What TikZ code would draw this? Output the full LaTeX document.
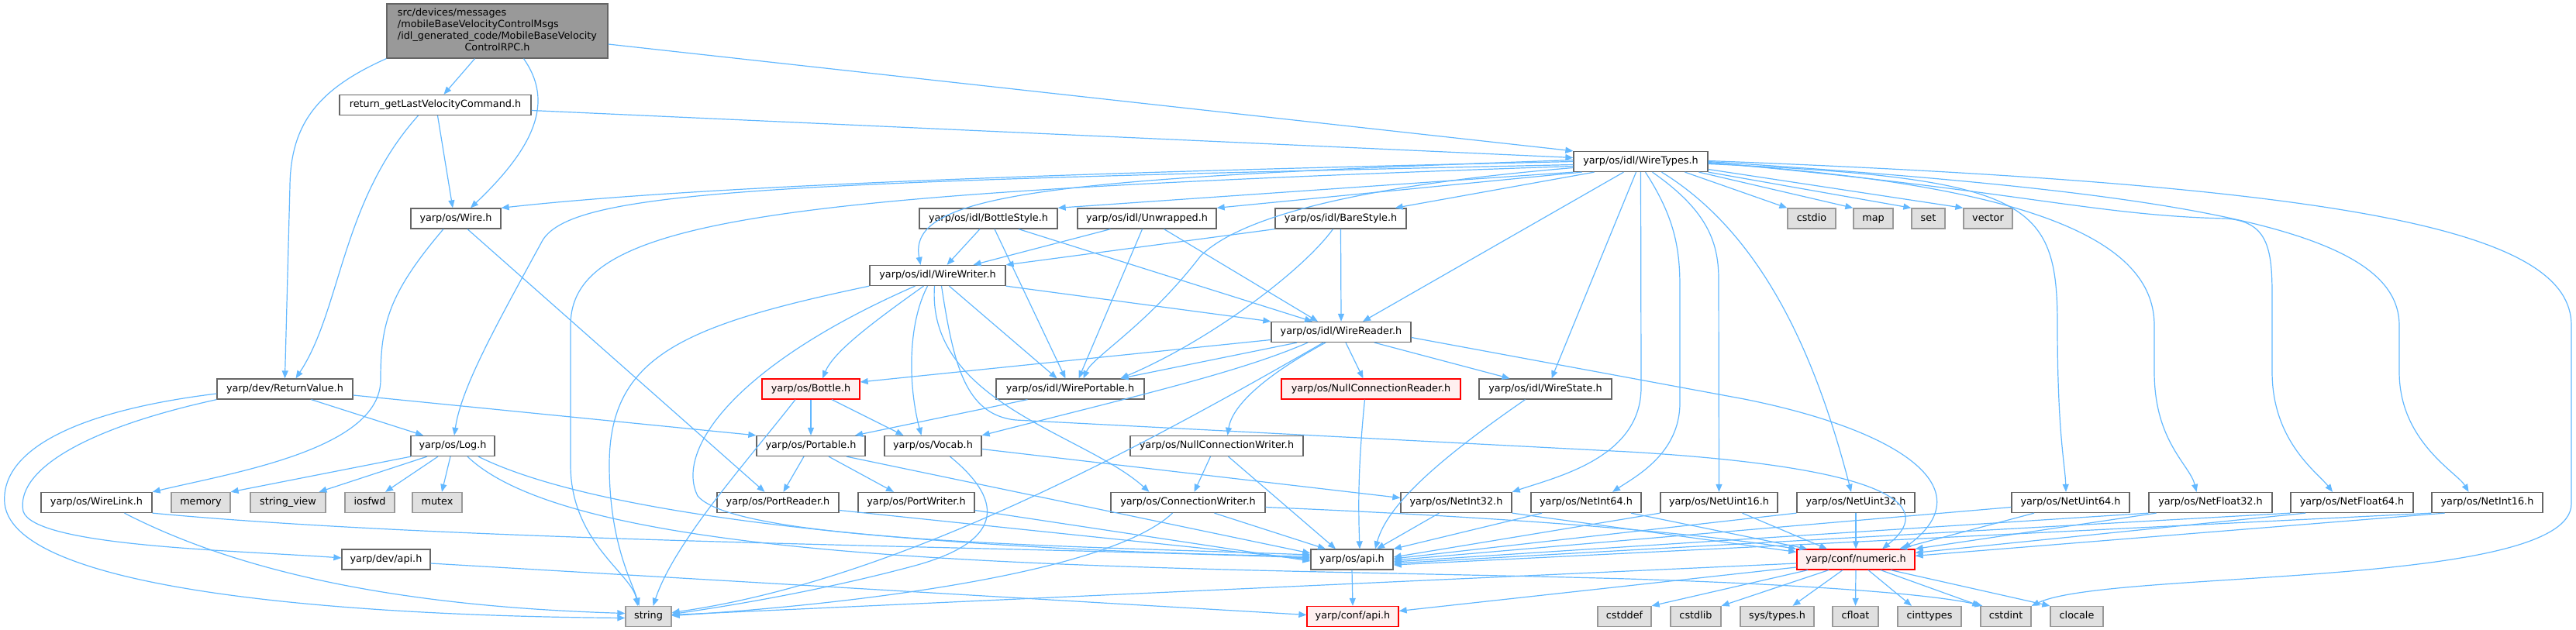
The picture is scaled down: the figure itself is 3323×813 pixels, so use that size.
\documentclass[tikz,border=0pt]{standalone}
\usepackage{fontspec}
\setmainfont{DejaVu Sans}
\usetikzlibrary{arrows.meta}

\definecolor{edgeblue}{HTML}{63B8FF}
\definecolor{boxgray}{HTML}{666666}
\definecolor{sysgray}{HTML}{999999}
\definecolor{sysfill}{HTML}{E0E0E0}
\definecolor{badfill}{HTML}{FFF0F0}
\definecolor{mainfill}{HTML}{999999}

\tikzset{
	box/.style={draw=boxgray, fill=white, line width=1.3pt, inner sep=0pt, font=\fontsize{12.8}{15}\selectfont},
	hdr/.style={box, minimum height=26pt, text height=9.6pt, text depth=3pt},
	sys/.style={hdr, draw=sysgray, fill=sysfill},
	bad/.style={hdr, draw=red, fill=badfill},
	inc/.style={draw=edgeblue, line width=1.2pt, -{Triangle[length=10pt,width=8pt]}},
}

\begin{document}
\begin{tikzpicture}[x=1pt,y=-1pt]
	\useasboundingbox (0,0) rectangle (3323,813);
	
	% File itself
	\node[box, fill=mainfill, minimum width=285pt, minimum height=70pt] (main) at (641.5,40)
		{\begin{tabular}{@{}l@{}}src/devices/messages\\/mobileBaseVelocityControlMsgs\\/idl\_generated\_code/MobileBaseVelocity\\\multicolumn{1}{@{}c@{}}{ControlRPC.h}\end{tabular}};
	
	% Headers, row by row
	\node[hdr, minimum width=247pt] (retcmd) at (561.5,135.5) {return\_getLastVelocityCommand.h};
	\node[hdr, minimum width=173pt] (wiretypes) at (2116.5,208.5) {yarp/os/idl/WireTypes.h};
	
	\node[hdr, minimum width=116pt] (wire) at (588,282) {yarp/os/Wire.h};
	\node[hdr, minimum width=178pt] (bottlestyle) at (1275,282) {yarp/os/idl/BottleStyle.h};
	\node[hdr, minimum width=179pt] (unwrapped) at (1479.5,282) {yarp/os/idl/Unwrapped.h};
	\node[hdr, minimum width=169pt] (barestyle) at (1729.5,282) {yarp/os/idl/BareStyle.h};
	\node[sys, minimum width=62pt] (cstdio) at (2337,282) {cstdio};
	\node[sys, minimum width=51pt] (map) at (2416.5,282) {map};
	\node[sys, minimum width=43pt] (set) at (2487.5,282) {set};
	\node[sys, minimum width=63pt] (vector) at (2564.5,282) {vector};
	
	\node[hdr, minimum width=175pt] (wirewriter) at (1209.5,355.5) {yarp/os/idl/WireWriter.h};
	\node[hdr, minimum width=180pt] (wirereader) at (1730,428.5) {yarp/os/idl/WireReader.h};
	
	\node[hdr, minimum width=175pt] (retval) at (367.5,502) {yarp/dev/ReturnValue.h};
	\node[bad, minimum width=126pt] (bottle) at (1046,502) {yarp/os/Bottle.h};
	\node[hdr, minimum width=191pt] (wireportable) at (1380.5,502) {yarp/os/idl/WirePortable.h};
	\node[bad, minimum width=231pt] (nullreader) at (1768.5,502) {yarp/os/NullConnectionReader.h};
	\node[hdr, minimum width=171pt] (wirestate) at (1993.5,502) {yarp/os/idl/WireState.h};
	
	\node[hdr, minimum width=108pt] (log) at (584,575.5) {yarp/os/Log.h};
	\node[hdr, minimum width=140pt] (portable) at (1046,575.5) {yarp/os/Portable.h};
	\node[hdr, minimum width=125pt] (vocab) at (1203.5,575.5) {yarp/os/Vocab.h};
	\node[hdr, minimum width=223pt] (nullwriter) at (1569.5,575.5) {yarp/os/NullConnectionWriter.h};
	
	\node[hdr, minimum width=143pt] (wirelink) at (124.5,648.5) {yarp/os/WireLink.h};
	\node[sys, minimum width=76pt] (memory) at (259,648.5) {memory};
	\node[sys, minimum width=97pt] (strview) at (371.5,648.5) {string\_view};
	\node[sys, minimum width=64pt] (iosfwd) at (477,648.5) {iosfwd};
	\node[sys, minimum width=64pt] (mutex) at (564,648.5) {mutex};
	\node[hdr, minimum width=157pt] (portreader) at (1003.5,648.5) {yarp/os/PortReader.h};
	\node[hdr, minimum width=150pt] (portwriter) at (1182,648.5) {yarp/os/PortWriter.h};
	\node[hdr, minimum width=199pt] (connwriter) at (1532.5,648.5) {yarp/os/ConnectionWriter.h};
	\node[hdr, minimum width=143pt] (netint32) at (1878.5,648.5) {yarp/os/NetInt32.h};
	\node[hdr, minimum width=142pt] (netint64) at (2046,648.5) {yarp/os/NetInt64.h};
	\node[hdr, minimum width=151pt] (netuint16) at (2217.5,648.5) {yarp/os/NetUint16.h};
	\node[hdr, minimum width=152pt] (netuint32) at (2394,648.5) {yarp/os/NetUint32.h};
	\node[hdr, minimum width=152pt] (netuint64) at (2671,648.5) {yarp/os/NetUint64.h};
	\node[hdr, minimum width=159pt] (netfloat32) at (2851.5,648.5) {yarp/os/NetFloat32.h};
	\node[hdr, minimum width=158pt] (netfloat64) at (3034,648.5) {yarp/os/NetFloat64.h};
	\node[hdr, minimum width=143pt] (netint16) at (3208.5,648.5) {yarp/os/NetInt16.h};
	
	\node[hdr, minimum width=114pt] (devapi) at (498,722) {yarp/dev/api.h};
	\node[hdr, minimum width=106pt] (osapi) at (1744,722) {yarp/os/api.h};
	\node[bad, minimum width=152pt] (numeric) at (2394,722) {yarp/conf/numeric.h};
	
	\node[sys, minimum width=59pt] (string) at (836.5,795.5) {string};
	\node[bad, minimum width=118pt] (confapi) at (1745,795.5) {yarp/conf/api.h};
	\node[sys, minimum width=69pt] (cstddef) at (2095.5,795.5) {cstddef};
	\node[sys, minimum width=65pt] (cstdlib) at (2187.5,795.5) {cstdlib};
	\node[sys, minimum width=95pt] (systypes) at (2292.5,795.5) {sys/types.h};
	\node[sys, minimum width=59pt] (cfloat) at (2393.5,795.5) {cfloat};
	\node[sys, minimum width=82pt] (cinttypes) at (2489,795.5) {cinttypes};
	\node[sys, minimum width=65pt] (cstdint) at (2587.5,795.5) {cstdint};
	\node[sys, minimum width=68pt] (clocale) at (2679,795.5) {clocale};
	
	% Includes of the file and of return_getLastVelocityCommand.h
	\draw[inc] (main.south west) .. controls (410,115) and (375,160) .. (374,240) -- (retval.north);
	\draw[inc] ([xshift=-29pt]main.south) -- ([xshift=11pt]retcmd.north);
	\draw[inc] ([xshift=34pt]main.south) .. controls (710,125) and (700,180) .. ([xshift=19pt]wire.north);
	\draw[inc] ([yshift=-17pt]main.east) -- (wiretypes.north west);
	\draw[inc] ([yshift=-7pt]retcmd.east) -- ([yshift=5pt]wiretypes.west);
	\draw[inc] ([xshift=3pt]retcmd.south) -- ([xshift=-4pt]wire.north);
	\draw[inc] ([xshift=-22pt]retcmd.south) .. controls (440,260) and (440,400) .. ([xshift=14pt]retval.north);
	
	% Wire.h
	\draw[inc] ([xshift=-16pt]wire.south) .. controls (500,380) and (491,420) .. (491,490) .. controls (491,580) and (300,610) .. (wirelink.north east);
	\draw[inc] ([xshift=15pt]wire.south) -- ([xshift=-17pt]portreader.north);
	
	% WireTypes.h, to the left
	\draw[inc] (wiretypes.west) .. controls (1400,222) and (900,240) .. (wire.north east);
	\draw[inc] ([yshift=-4pt]wiretypes.west) .. controls (1000,235) and (740,245) .. (700,310) .. controls (640,420) and (595,500) .. ([xshift=2pt]log.north);
	\draw[inc] ([yshift=-6pt]wiretypes.west) .. controls (1000,250) and (736,280) .. (736,420) -- (736,600) .. controls (736,700) and (815,740) .. ([xshift=-14pt]string.north);
	\draw[inc] (wiretypes.south west) -- (bottlestyle.north east);
	\draw[inc] ([xshift=-76pt]wiretypes.south) -- (unwrapped.north east);
	\draw[inc] ([xshift=-60pt]wiretypes.south) -- ([xshift=-15pt]barestyle.north east);
	\draw[inc] ([yshift=2pt]wiretypes.west) .. controls (1350,230) and (1170,250) .. ([xshift=-22pt]wirewriter.north);
	\draw[inc] ([yshift=-8pt]wiretypes.west) .. controls (1750,240) and (1600,280) .. (1549,330) .. controls (1480,420) and (1410,460) .. ([xshift=17pt]wireportable.north);
	\draw[inc] ([xshift=-22pt]wiretypes.south) -- ([xshift=28pt]wirereader.north);
	\draw[inc] ([xshift=-6pt]wiretypes.south) -- ([xshift=8pt]wirestate.north);
	
	% WireTypes.h, downwards and to the right
	\draw[inc] (wiretypes.south) -- (2117,500) .. controls (2117,590) and (2010,615) .. (netint32.north east);
	\draw[inc] ([xshift=6pt]wiretypes.south) .. controls (2160,280) and (2167,320) .. (2167,370) -- (2167,520) .. controls (2167,585) and (2110,615) .. ([xshift=34pt]netint64.north);
	\draw[inc] ([xshift=15pt]wiretypes.south) .. controls (2200,270) and (2217,310) .. (2217,360) -- (netuint16.north);
	\draw[inc] ([xshift=27pt]wiretypes.south) .. controls (2270,300) and (2340,450) .. ([xshift=-6pt]netuint32.north);
	\draw[inc] ([yshift=-3pt]wiretypes.east) .. controls (2620,230) and (2654,260) .. (2654,420) .. controls (2654,560) and (2664,600) .. ([xshift=-6pt]netuint64.north);
	\draw[inc] ([yshift=-2pt]wiretypes.east) .. controls (2650,240) and (2779,320) .. (2779,420) -- (2779,480) .. controls (2779,570) and (2825,600) .. ([xshift=-18pt]netfloat32.north);
	\draw[inc] ([yshift=-1pt]wiretypes.east) .. controls (2600,245) and (2700,278) .. (2870,282) .. controls (2925,285) and (2931,320) .. (2931,380) -- (2931,480) .. controls (2931,570) and (2990,610) .. ([xshift=-25pt]netfloat64.north);
	\draw[inc] (wiretypes.east) .. controls (2850,250) and (3095,300) .. (3095,420) -- (3095,480) .. controls (3095,570) and (3170,610) .. ([xshift=-24pt]netint16.north);
	\draw[inc] ([yshift=1pt]wiretypes.east) .. controls (3050,240) and (3317,300) .. (3317,420) -- (3317,650) .. controls (3317,760) and (2720,735) .. (cstdint.north east);
	\draw[inc] ([xshift=57pt]wiretypes.south) -- (cstdio.north west);
	\draw[inc] ([xshift=75pt]wiretypes.south) -- (map.north west);
	\draw[inc] (wiretypes.south east) -- (set.north west);
	\draw[inc] ([yshift=-10pt]wiretypes.east) -- (vector.north west);
	
	% Style headers
	\draw[inc] ([xshift=-11pt]bottlestyle.south) -- ([xshift=12pt]wirewriter.north);
	\draw[inc] ([xshift=8pt]bottlestyle.south) -- ([xshift=-6pt]wireportable.north);
	\draw[inc] ([xshift=39pt]bottlestyle.south) -- ([xshift=-37pt]wirereader.north);
	\draw[inc] ([xshift=-47pt]unwrapped.south) -- ([xshift=46pt]wirewriter.north);
	\draw[inc] ([xshift=-6pt]unwrapped.south) -- ([xshift=11pt]wireportable.north);
	\draw[inc] ([xshift=22pt]unwrapped.south) -- ([xshift=-30pt]wirereader.north);
	\draw[inc] (barestyle.south west) -- (wirewriter.north east);
	\draw[inc] ([xshift=-10pt]barestyle.south) .. controls (1680,350) and (1560,440) .. ([xshift=65pt]wireportable.north);
	\draw[inc] (barestyle.south) -- (wirereader.north);
	
	% WireWriter.h
	\draw[inc] (wirewriter.south east) -- (wirereader.north west);
	\draw[inc] ([xshift=-18pt]wirewriter.south) .. controls (1120,420) and (1075,455) .. ([xshift=15pt]bottle.north);
	\draw[inc] ([xshift=-13pt]wirewriter.south) .. controls (1170,420) and (1172,500) .. ([xshift=-15pt]vocab.north);
	\draw[inc] ([xshift=15pt]wirewriter.south) -- ([xshift=-17pt]wireportable.north);
	\draw[inc] ([xshift=-4pt]wirewriter.south) .. controls (1195,520) and (1400,560) .. ([xshift=-50pt]connwriter.north);
	\draw[inc] ([xshift=5pt]wirewriter.south) .. controls (1230,470) and (1245,535) .. (1310,542) -- (2100,583) .. controls (2470,605) and (2490,660) .. ([xshift=34pt]numeric.north);
	\draw[inc] (wirewriter.south west) .. controls (880,420) and (786,460) .. (786,600) .. controls (786,700) and (815,750) .. ([xshift=-12pt]string.north);
	\draw[inc] ([xshift=-29pt]wirewriter.south) .. controls (950,470) and (870,580) .. (900,640) .. controls (950,700) and (1400,705) .. ([yshift=6pt]osapi.west);
	
	% WireReader.h
	\draw[inc] ([yshift=-10pt]wirereader.west) -- ([yshift=9pt]bottle.east);
	\draw[inc] ([xshift=-57pt]wirereader.south) -- ([xshift=65pt]wireportable.north);
	\draw[inc] ([xshift=-43pt]wirereader.south) .. controls (1600,480) and (1470,510) .. (vocab.north east);
	\draw[inc] ([xshift=-23pt]wirereader.south) .. controls (1450,590) and (1150,750) .. ([yshift=5pt]string.east);
	\draw[inc] ([xshift=-20pt]wirereader.south) .. controls (1640,480) and (1590,520) .. ([xshift=14pt]nullwriter.north);
	\draw[inc] ([xshift=6pt]wirereader.south) -- ([xshift=-10pt]nullreader.north);
	\draw[inc] ([xshift=43pt]wirereader.south) -- ([xshift=-46pt]wirestate.north);
	\draw[inc] ([yshift=-7pt]wirereader.east) -- (2250,515) .. controls (2450,555) and (2560,630) .. ([xshift=61pt]numeric.north);
	
	% Bottle.h, WirePortable.h, Portable.h, Vocab.h
	\draw[inc] ([xshift=-20pt]bottle.south) .. controls (960,600) and (870,700) .. ([xshift=6pt]string.north);
	\draw[inc] (bottle.south) -- (portable.north);
	\draw[inc] ([xshift=27pt]bottle.south) -- ([xshift=-38pt]vocab.north);
	\draw[inc] ([xshift=-55pt]wireportable.south) -- ([xshift=57pt]portable.north);
	\draw[inc] ([xshift=-9pt]portable.south) -- ([xshift=7pt]portreader.north);
	\draw[inc] ([xshift=23pt]portable.south) -- ([xshift=-29pt]portwriter.north);
	\draw[inc] ([xshift=46pt]portable.south) -- ([yshift=8pt]osapi.west);
	\draw[inc] ([xshift=22pt]vocab.south) .. controls (1300,650) and (1290,700) .. (1180,730) .. controls (1050,765) and (920,785) .. ([yshift=3pt]string.east);
	\draw[inc] ([yshift=-4pt]vocab.east) -- ([yshift=6pt]netint32.west);
	
	% Connection headers, WireState.h
	\draw[inc] ([xshift=-8pt]nullwriter.south) -- ([xshift=8pt]connwriter.north);
	\draw[inc] ([xshift=15pt]nullwriter.south) -- ([xshift=-21pt]osapi.north);
	\draw[inc] ([xshift=-8pt]nullreader.south) .. controls (1752,600) and (1752,650) .. ([xshift=10pt]osapi.north);
	\draw[inc] ([xshift=-26pt]wirestate.south) .. controls (1860,590) and (1790,650) .. ([xshift=30pt]osapi.north);
	\draw[inc] ([xshift=34pt]connwriter.south) -- ([xshift=-34pt]osapi.north);
	\draw[inc] ([xshift=-20pt]connwriter.south) .. controls (1430,740) and (1100,780) .. ([yshift=1pt]string.east);
	\draw[inc] ([yshift=-6pt]connwriter.east) .. controls (2000,670) and (2200,690) .. (numeric.north west);
	
	% Net types
	\draw[inc] ([xshift=-22pt]netint32.south) -- ([xshift=32pt]osapi.north);
	\draw[inc] (netint32.south east) -- ([yshift=-4pt]numeric.north west);
	\draw[inc] ([xshift=-57pt]netint64.south) -- (osapi.north east);
	\draw[inc] ([xshift=58pt]netint64.south) -- ([xshift=14pt]numeric.north west);
	\draw[inc] (netuint16.south west) -- ([yshift=3pt]osapi.east);
	\draw[inc] ([xshift=30pt]netuint16.south) -- ([xshift=-37pt]numeric.north);
	\draw[inc] (netuint32.south west) -- ([yshift=1pt]osapi.east);
	\draw[inc] (netuint32.south) -- (numeric.north);
	\draw[inc] ([yshift=-6pt]netuint64.west) -- ([yshift=-1pt]osapi.east);
	\draw[inc] ([xshift=-47pt]netuint64.south) -- ([xshift=56pt]numeric.north);
	\draw[inc] (netfloat32.south west) -- ([yshift=-3pt]osapi.east);
	\draw[inc] ([xshift=-70pt]netfloat32.south) -- (numeric.north east);
	\draw[inc] (netfloat64.south west) -- ([yshift=-5pt]osapi.east);
	\draw[inc] ([xshift=-60pt]netfloat64.south) -- ([yshift=-5pt]numeric.north east);
	\draw[inc] (netint16.south west) -- ([yshift=-7pt]osapi.east);
	\draw[inc] ([xshift=-55pt]netint16.south) -- ([yshift=-9pt]numeric.north east);
	
	% Log.h, ReturnValue.h, WireLink.h
	\draw[inc] ([xshift=-54pt]log.south) -- (memory.north east);
	\draw[inc] ([xshift=-33pt]log.south) -- ([xshift=40pt]strview.north);
	\draw[inc] ([xshift=-19pt]log.south) -- ([xshift=20pt]iosfwd.north);
	\draw[inc] ([xshift=-3pt]log.south) -- ([xshift=6pt]mutex.north);
	\draw[inc] ([xshift=33pt]log.south) .. controls (800,680) and (1300,712) .. ([yshift=4pt]osapi.west);
	\draw[inc] ([xshift=19pt]log.south) .. controls (760,740) and (1500,730) .. (2100,747) .. controls (2350,755) and (2500,768) .. ([xshift=3pt]cstdint.north west);
	\draw[inc] ([yshift=-6pt]retval.west) .. controls (100,530) and (0,580) .. (6,650) .. controls (20,770) and (500,795) .. ([yshift=-2pt]string.west);
	\draw[inc] (retval.south west) .. controls (100,555) and (20,610) .. (30,660) .. controls (45,705) and (300,710) .. ([yshift=2pt]devapi.west);
	\draw[inc] ([xshift=34pt]retval.south) -- ([xshift=-38pt]log.north);
	\draw[inc] ([yshift=-8pt]retval.east) -- (portable.north west);
	\draw[inc] ([xshift=36pt]wirelink.south) .. controls (350,760) and (600,785) .. ([yshift=4pt]string.west);
	\draw[inc] (wirelink.south east) .. controls (600,700) and (1300,705) .. ([yshift=2pt]osapi.west);
	\draw[inc] ([yshift=-10pt]portreader.east) -- (osapi.west);
	\draw[inc] ([yshift=-10pt]portwriter.east) -- ([yshift=-2pt]osapi.west);
	
	% api.h and numeric.h
	\draw[inc] ([yshift=-5pt]devapi.east) -- ([yshift=2pt]confapi.west);
	\draw[inc] (osapi.south) -- (confapi.north);
	\draw[inc] ([yshift=-10pt]numeric.west) -- ([yshift=7pt]confapi.east);
	\draw[inc] ([yshift=-5pt]numeric.west) -- ([yshift=2pt]string.east);
	\draw[inc] ([xshift=-62pt]numeric.south) -- (cstddef.north east);
	\draw[inc] ([xshift=-35pt]numeric.south) -- (cstdlib.north east);
	\draw[inc] ([xshift=-17pt]numeric.south) -- ([xshift=20pt]systypes.north);
	\draw[inc] (numeric.south) -- (cfloat.north);
	\draw[inc] ([xshift=16pt]numeric.south) -- ([xshift=-23pt]cinttypes.north);
	\draw[inc] ([xshift=32pt]numeric.south) -- (cstdint.north west);
	\draw[inc] ([xshift=45pt]numeric.south) -- (clocale.north west);
	
\end{tikzpicture}
\end{document}
